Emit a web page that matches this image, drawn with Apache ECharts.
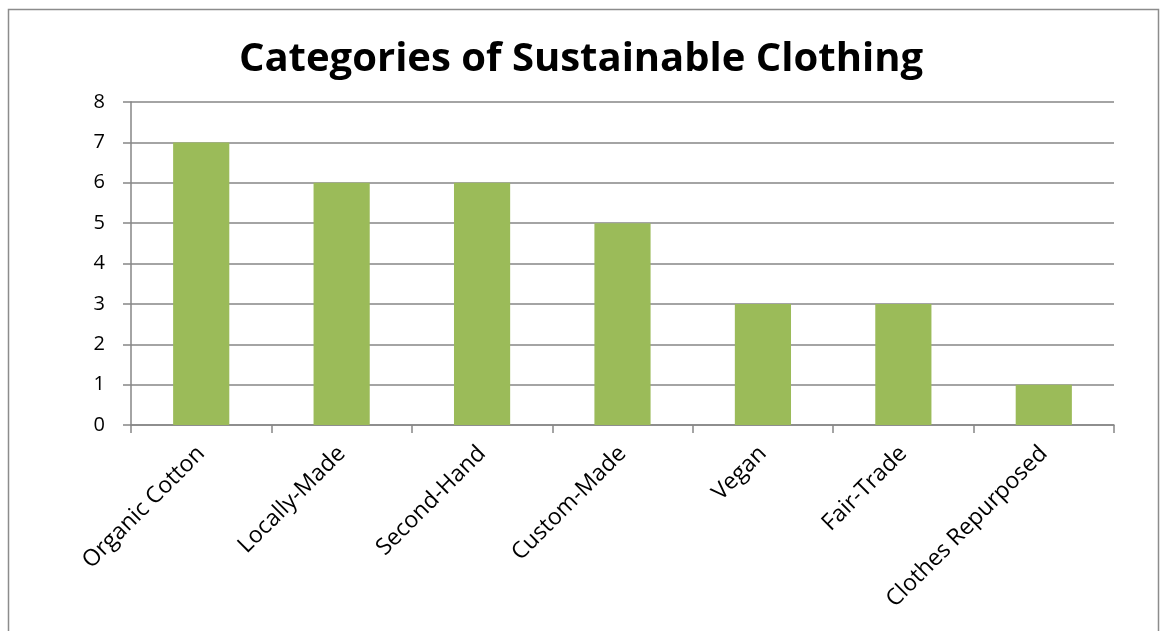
<!DOCTYPE html>
<html>
<head>
<meta charset="utf-8">
<script src="https://cdn.jsdelivr.net/npm/echarts@6/dist/echarts.min.js"></script>
<style>
  html, body { margin: 0; padding: 0; background: #fff; }
  #chart { width: 1162px; height: 631px; }
</style>
</head>
<body>
<div id="chart"></div>
<script>
const titleText = 'Categories of Sustainable Clothing';
const categories = ['Organic Cotton', 'Locally-Made', 'Second-Hand', 'Custom-Made', 'Vegan', 'Fair-Trade', 'Clothes Repurposed'];
const counts = [7, 6, 6, 5, 3, 3, 1];

const chart = echarts.init(document.getElementById('chart'), null, { renderer: 'canvas' });
const fontFamily = '"Open Sans", sans-serif';

chart.setOption({
  backgroundColor: '#fff',
  animation: false,
  title: {
    text: titleText,
    left: 'center',
    top: 35,
    textStyle: { fontFamily: fontFamily, fontWeight: 'bold', fontSize: 40, color: '#000' }
  },
  graphic: [{
    type: 'rect',
    shape: { x: 8.5, y: 9.5, width: 1150, height: 640 },
    style: { fill: 'none', stroke: '#8c8c8c', lineWidth: 1.5 },
    silent: true
  }],
  grid: { left: 131, right: 48, top: 102, bottom: 206, containLabel: false },
  xAxis: {
    type: 'category',
    data: categories,
    axisLine: { lineStyle: { color: '#868686', width: 1.5 } },
    axisTick: { show: true, length: 8, alignWithLabel: false, lineStyle: { color: '#868686', width: 1.5 } },
    axisLabel: { rotate: 45, interval: 0, margin: 25, fontFamily: fontFamily, fontSize: 23, color: '#000' }
  },
  yAxis: {
    type: 'value',
    min: 0, max: 8, interval: 1,
    axisLine: { show: true, lineStyle: { color: '#868686', width: 1.5 } },
    axisTick: { show: true, length: 8, lineStyle: { color: '#868686', width: 1.5 } },
    splitLine: { show: true, lineStyle: { color: '#868686', width: 1.5 } },
    axisLabel: { margin: 26, fontFamily: fontFamily, fontSize: 20, color: '#000' }
  },
  series: [{
    type: 'bar',
    data: counts,
    barWidth: '40%',
    itemStyle: { color: '#9BBB59' }
  }]
});
</script>
</body>
</html>
